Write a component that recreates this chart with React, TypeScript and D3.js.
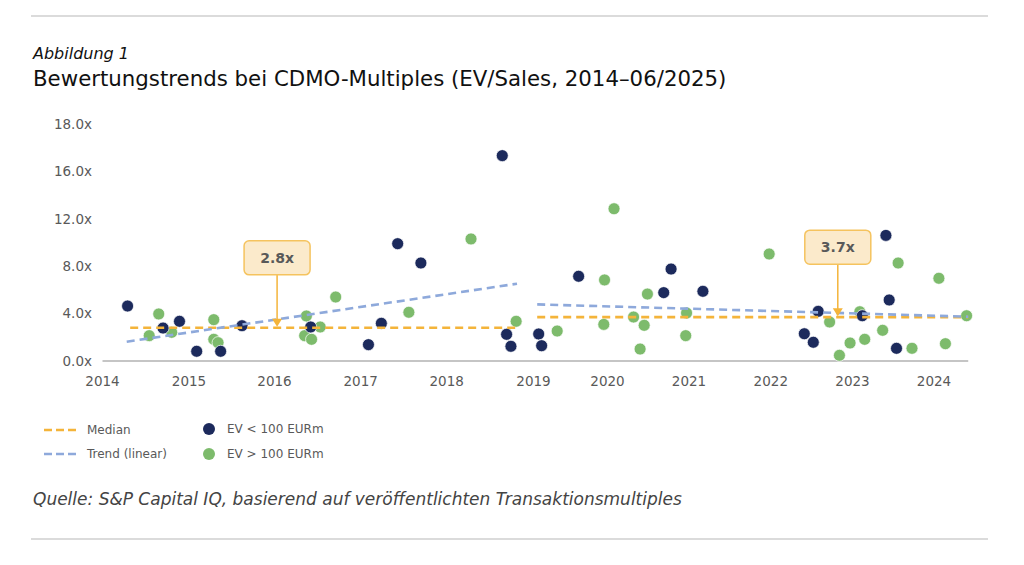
import * as d3 from 'd3'

// decimal year / multiple
const smallDates = [
  2014.29, 2014.7, 2014.89, 2015.09, 2015.37, 2015.62, 2016.42, 2017.09, 2017.24,
  2017.43, 2017.7, 2018.64, 2018.69, 2018.74, 2019.07, 2019.11, 2019.61, 2020.69,
  2020.78, 2021.17, 2022.41, 2022.52, 2022.58, 2023.12, 2023.41, 2023.45, 2023.54,
]
const smallValues = [
  4.64, 2.78, 3.35, 0.82, 0.82, 2.98, 2.87, 1.38, 3.18,
  9.9, 8.27, 17.33, 2.25, 1.24, 2.28, 1.29, 7.15, 5.77,
  7.76, 5.88, 2.3, 1.58, 4.19, 3.82, 10.6, 5.15, 1.07,
]

const largeDates = [
  2014.54, 2014.65, 2014.8, 2015.29, 2015.29, 2015.34, 2016.35, 2016.37, 2016.43,
  2016.53, 2016.71, 2017.56, 2018.28, 2018.8, 2019.32, 2019.95, 2019.96, 2020.08,
  2020.32, 2020.4, 2020.45, 2020.49, 2020.97, 2020.96, 2021.98, 2022.72, 2022.84,
  2022.97, 2023.09, 2023.15, 2023.37, 2023.56, 2023.73, 2024.06, 2024.14, 2024.4,
]
const largeValues = [
  2.14, 3.97, 2.42, 3.49, 1.83, 1.55, 2.14, 3.8, 1.83,
  2.87, 5.4, 4.11, 10.3, 3.35, 2.53, 3.09, 6.84, 12.85,
  3.71, 1.01, 3.01, 5.65, 4.05, 2.14, 9.03, 3.29, 0.48,
  1.52, 4.16, 1.83, 2.59, 8.27, 1.07, 6.98, 1.46, 3.82,
]

// two periods: median and linear trend
const medianStart = [2014.32, 2019.05]
const trendStartDate = [2014.28, 2019.05]
const periodEnd = [2018.81, 2024.42]
const medianValues = [2.8, 3.7]
const trendStart = [1.63, 4.78]
const trendEnd = [6.52, 3.74]
const calloutDates = [2016.03, 2022.82]
const calloutLabels = ['2.8x', '3.7x']

const yearTicks = [2014, 2015, 2016, 2017, 2018, 2019, 2020, 2021, 2022, 2023, 2024]
const axisEnd = 2024.42
const yTicks = [0, 4, 8, 12, 16, 20]
const yTickLabels = ['0.0x', '4.0x', '8.0x', '12.0x', '16.0x', '18.0x']

const width = 1024
const height = 565
// the source axis is not evenly spaced between years
const yearPixels = [102.5, 189, 274.5, 360.7, 446.7, 533.5, 607.5, 689, 770.8, 852.5, 934]
const plotTop = 124
const plotBottom = 361

const NAVY = '#1c2a5c'
const GREEN = '#7dbb6c'
const ORANGE = '#f4b43a'
const BLUE = '#8ea9db'
const GREY = '#595959'
const FONT = 'DejaVu Sans, Verdana, sans-serif'

const App = () => {
  const xScale = d3.scaleLinear().domain(yearTicks).range(yearPixels)

  const yScale = d3.scaleLinear().domain([0, 20]).range([plotBottom, plotTop])

  const small = smallDates.map((d, i) => ({ x: xScale(d), y: yScale(smallValues[i]) }))
  const large = largeDates.map((d, i) => ({ x: xScale(d), y: yScale(largeValues[i]) }))

  const line = d3
    .line<[number, number]>()
    .x(d => xScale(d[0]))
    .y(d => yScale(d[1]))

  return (
    <div style={{ position: 'absolute', left: 0, top: 0 }}>
      <svg width={width} height={height} style={{ display: 'block' }}>
        <rect width={width} height={height} fill="#fff" />
        <line x1={31} x2={988} y1={16} y2={16} stroke="#cfcfcf" strokeWidth={1.5} />
        <line x1={31} x2={988} y1={539} y2={539} stroke="#cfcfcf" strokeWidth={1.5} />

        <text x={33} y={59} fontFamily={FONT} fontStyle="italic" fontSize={16} fill="#111">
          Abbildung 1
        </text>
        <text x={33} y={86} fontFamily={FONT} fontSize={21.3} fill="#111">
          Bewertungstrends bei CDMO-Multiples (EV/Sales, 2014–06/2025)
        </text>

        {/* y tick labels */}
        {yTicks.map((t, i) => (
          <text
            key={t}
            x={92}
            y={yScale(t)}
            dy="0.35em"
            textAnchor="end"
            fontFamily={FONT}
            fontSize={13.5}
            fill={GREY}
          >
            {yTickLabels[i]}
          </text>
        ))}

        {/* x axis */}
        <line
          x1={xScale(yearTicks[0])}
          x2={xScale(axisEnd)}
          y1={yScale(0)}
          y2={yScale(0)}
          stroke="#8c8c8c"
          strokeWidth={1.2}
        />
        {yearTicks.map(t => (
          <text
            key={t}
            x={xScale(t)}
            y={yScale(0) + 20}
            dy="0.35em"
            textAnchor="middle"
            fontFamily={FONT}
            fontSize={13.5}
            fill={GREY}
          >
            {t}
          </text>
        ))}

        {/* points */}
        {large.map((p, i) => (
          <circle key={'l' + i} cx={p.x} cy={p.y} r={6} fill={GREEN} stroke="#fff" strokeWidth={0.7} />
        ))}
        {small.map((p, i) => (
          <circle key={'s' + i} cx={p.x} cy={p.y} r={6} fill={NAVY} stroke="#fff" strokeWidth={0.7} />
        ))}

        {/* median + trend */}
        {medianStart.map((s, i) => (
          <g key={'p' + i}>
            <path
              d={line([[s, medianValues[i]], [periodEnd[i], medianValues[i]]]) || ''}
              stroke={ORANGE}
              strokeWidth={2.6}
              strokeDasharray="8 5"
              fill="none"
            />
            <path
              d={line([[trendStartDate[i], trendStart[i]], [periodEnd[i], trendEnd[i]]]) || ''}
              stroke={BLUE}
              strokeWidth={2.6}
              strokeDasharray="8 5"
              fill="none"
            />
          </g>
        ))}

        {/* callouts */}
        {calloutDates.map((d, i) => {
          const cx = xScale(d)
          const tip = yScale(medianValues[i])
          const boxBottom = tip - 53
          return (
            <g key={'c' + i}>
              <line x1={cx} x2={cx} y1={boxBottom} y2={tip - 5} stroke={ORANGE} strokeWidth={1.5} />
              <path d={`M${cx - 5},${tip - 9}L${cx + 5},${tip - 9}L${cx},${tip - 1}Z`} fill={ORANGE} />
              <rect
                x={cx - 33}
                y={boxBottom - 34}
                width={66}
                height={34}
                rx={5}
                fill="#fbeacb"
                stroke="#f5c35e"
                strokeWidth={1.5}
              />
              <text
                x={cx}
                y={boxBottom - 17}
                dy="0.36em"
                textAnchor="middle"
                fontFamily={FONT}
                fontWeight="bold"
                fontSize={14}
                fill={GREY}
              >
                {calloutLabels[i]}
              </text>
            </g>
          )
        })}

        {/* legend */}
        <line x1={44} x2={78} y1={430} y2={430} stroke={ORANGE} strokeWidth={2.5} strokeDasharray="8 4" />
        <text x={87} y={430} dy="0.35em" fontFamily={FONT} fontSize={12} fill={GREY}>
          Median
        </text>
        <line x1={44} x2={78} y1={454} y2={454} stroke={BLUE} strokeWidth={2.5} strokeDasharray="8 4" />
        <text x={87} y={454} dy="0.35em" fontFamily={FONT} fontSize={12} fill={GREY}>
          Trend (linear)
        </text>
        <circle cx={209} cy={429} r={6} fill={NAVY} />
        <text x={227} y={429} dy="0.35em" fontFamily={FONT} fontSize={12} fill={GREY}>
          EV &lt; 100 EURm
        </text>
        <circle cx={209} cy={454} r={6} fill={GREEN} />
        <text x={227} y={454} dy="0.35em" fontFamily={FONT} fontSize={12} fill={GREY}>
          EV &gt; 100 EURm
        </text>

        <text x={33} y={505} fontFamily={FONT} fontStyle="italic" fontSize={17} fill="#444">
          Quelle: S&amp;P Capital IQ, basierend auf veröffentlichten Transaktionsmultiples
        </text>
      </svg>
    </div>
  )
}

export default App
